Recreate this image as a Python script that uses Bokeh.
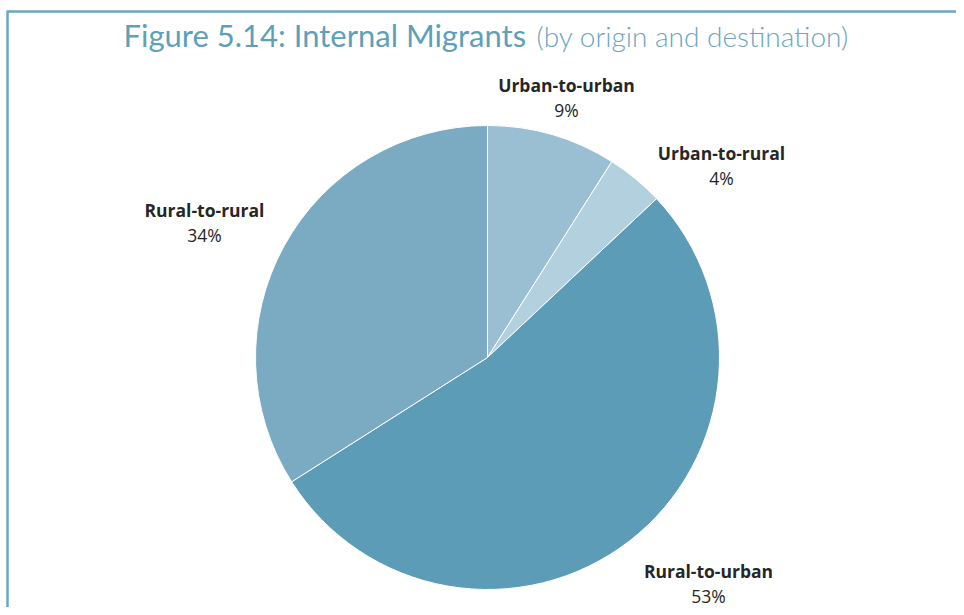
import math
from bokeh.plotting import figure
from bokeh.models import Range1d, ColumnDataSource
from bokeh.core.properties import value
from bokeh.embed import file_html
from bokeh.resources import INLINE

# ---- data ----
categories = ["Urban-to-urban", "Urban-to-rural", "Rural-to-urban", "Rural-to-rural"]
shares = [9, 4, 53, 34]
pct_labels = ["9%", "4%", "53%", "34%"]
colors = ["#9bbfd2", "#b3d0de", "#5c9cb7", "#7babc3"]

# ---- layout (screen px -> figure coords with y up) ----
W, H = 956, 607
def fy(sy):
    return H - sy
def fx(sx):
    return sx

cx, cy, R = fx(487), fy(357), 232
label_pos = [(566, 84), (721, 152), (708, 570), (204, 209)]

p = figure(width=W, height=H, x_range=Range1d(0, W), y_range=Range1d(0, H),
           output_backend="svg", toolbar_location=None, min_border=0)
p.axis.visible = False
p.grid.visible = False
p.outline_line_color = None
p.background_fill_color = "white"
p.border_fill_color = "white"

total = sum(shares)
starts, ends = [], []
acc = 0
for v in shares:
    starts.append(math.pi / 2 - 2 * math.pi * acc / total)
    acc += v
    ends.append(math.pi / 2 - 2 * math.pi * acc / total)

src = ColumnDataSource(dict(cat=categories, start=starts, end=ends, color=colors))
p.wedge(x=cx, y=cy, radius=R, radius_units="screen", start_angle="start", end_angle="end",
        direction="clock", fill_color="color", line_color="white", line_width=1, source=src)

# labels
lsrc = ColumnDataSource(dict(
    x=[fx(a) for a, b in label_pos],
    y1=[fy(b) for a, b in label_pos],
    y2=[fy(b + 25.5) for a, b in label_pos],
    cat=categories, pct=pct_labels))
p.text(x="x", y="y1", text="cat", source=lsrc, text_font=value("Open Sans"),
       text_font_style="bold", text_font_size="17.5px", text_color="#262626",
       text_align="center", text_baseline="middle")
p.text(x="x", y="y2", text="pct", source=lsrc, text_font=value("Open Sans"),
       text_font_size="17.5px", text_color="#262626",
       text_align="center", text_baseline="middle")

# frame lines
p.segment(x0=[fx(6)], y0=[fy(11)], x1=[W], y1=[fy(11)], line_color="#6aa6c0", line_width=2.5)
p.segment(x0=[fx(7)], y0=[fy(11)], x1=[fx(7)], y1=[0], line_color="#6aa6c0", line_width=2.5)

# title
title_color = "#5e9fb9"
p.text(x=[fx(123)], y=[fy(34)], text=["Figure 5.14: Internal Migrants"],
       text_font=value("Lato"), text_font_size="31px", text_color=title_color,
       text_align="left", text_baseline="middle")
p.text(x=[fx(536)], y=[fy(35)], text=["(by origin and destination)"],
       text_font=value("Lato Light"), text_font_size="28px", text_color="#6aa6c0",
       text_align="left", text_baseline="middle")

open("out.html", "w").write(file_html(p, INLINE))
